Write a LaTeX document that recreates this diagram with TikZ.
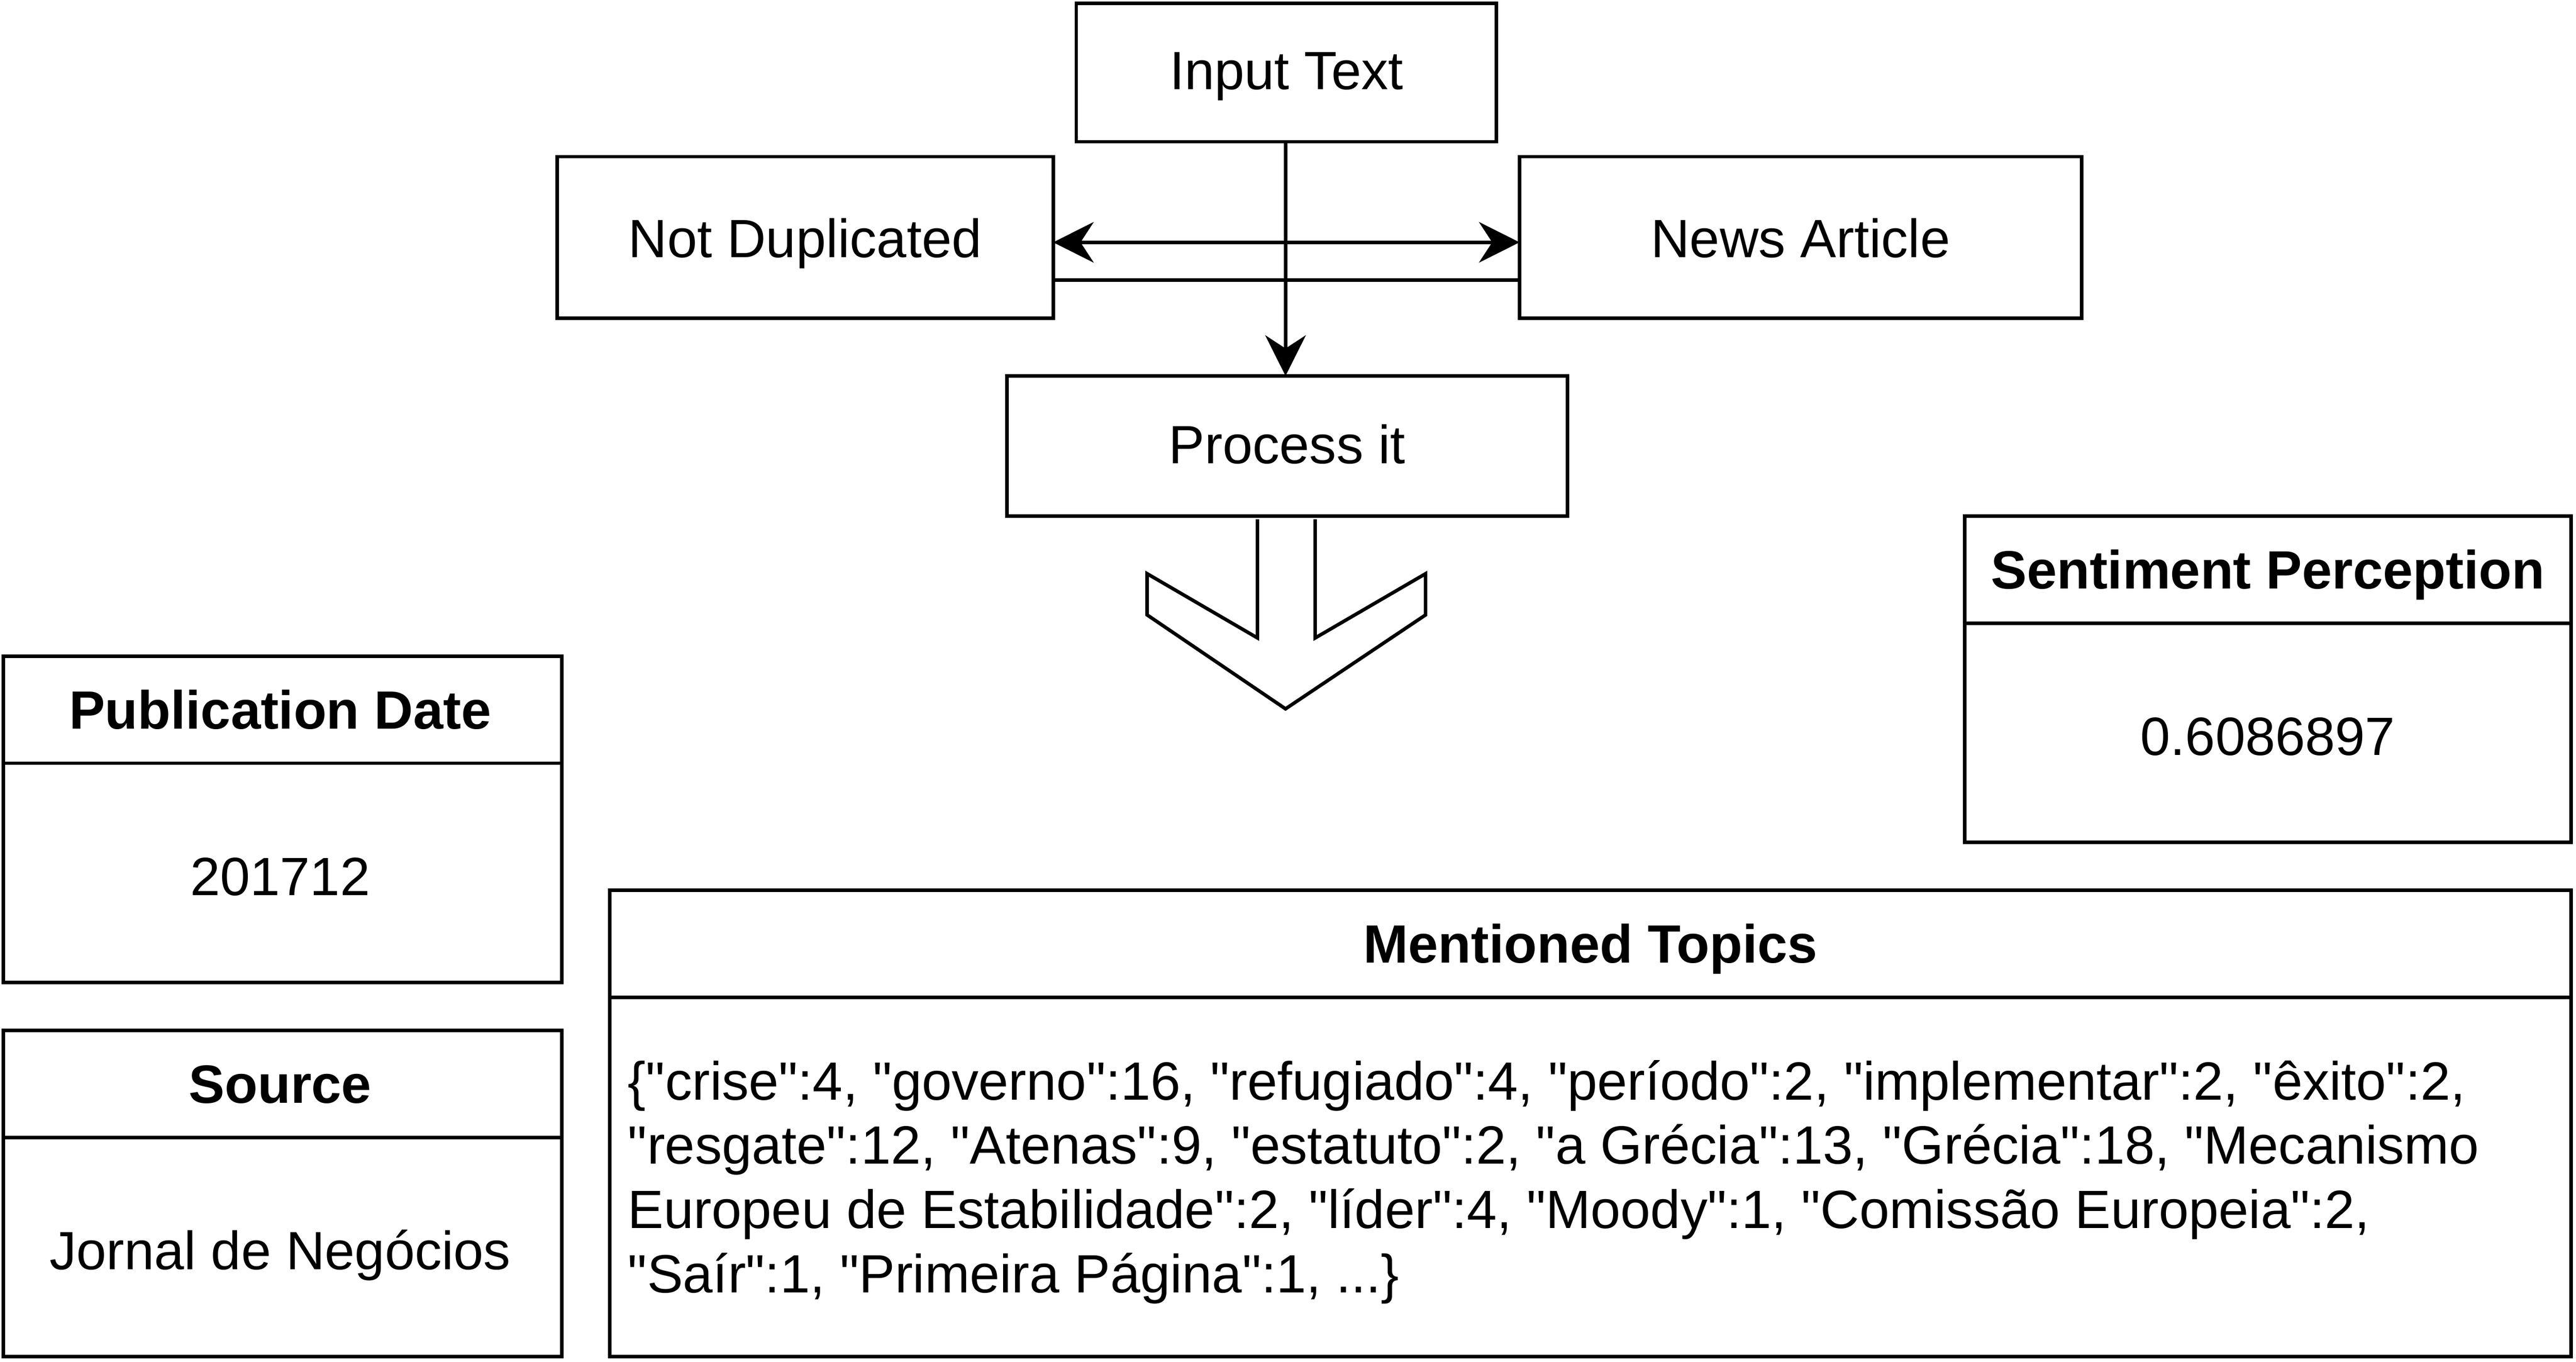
\documentclass[tikz,border=0pt]{standalone}
\usepackage{fontspec}
\setmainfont{Liberation Sans}
\usetikzlibrary{arrows.meta}
\newcommand{\qt}{\textquotedbl}
\begin{document}
\begin{tikzpicture}[x=1cm,y=-1cm, line width=0.6pt,
    head/.style={font=\fontsize{9.3}{12}\selectfont\bfseries, text height=1.5ex, text depth=0.4ex},
    txt/.style={font=\fontsize{9.3}{12}\selectfont, text height=1.5ex, text depth=0.4ex}]
        \useasboundingbox (0,0) rectangle (15.63,8.26);

        % flow boxes
        \draw (6.53,0.02) rectangle (9.08,0.86);
        \node [txt] (input) at (7.805,0.44) {Input Text};
        \draw (3.38,0.95) rectangle (6.39,1.93);
        \node [txt] (notdup) at (4.885,1.46) {Not Duplicated};
        \draw (9.22,0.95) rectangle (12.63,1.93);
        \node [txt] (news) at (10.925,1.46) {News Article};
        \draw (6.11,2.28) rectangle (9.51,3.13);
        \node [txt] (process) at (7.81,2.71) {Process it};

        % connectors
        \coordinate (split) at (7.8,1.70);
        \draw (7.8,0.86) -- (split);
        \draw [-{Stealth[length=7pt,width=7pt]}] (split) -- (7.8,2.28);
        \draw [{Stealth[length=7pt,width=7pt]}-{Stealth[length=7pt,width=7pt]}] (6.39,1.47) -- (9.22,1.47);
        \draw (6.39,1.70) -- (9.22,1.70);

        % big hollow arrow
        \draw [line join=miter] (7.63,3.15) -- (7.63,3.87) -- (6.96,3.48) -- (6.96,3.73) -- (7.8,4.30)
            -- (8.65,3.73) -- (8.65,3.48) -- (7.98,3.87) -- (7.98,3.15);

        % sentiment
        \draw (11.92,3.13) rectangle (15.60,5.11);
        \draw (11.92,3.78) -- (15.60,3.78);
        \node [head] (senth) at (13.76,3.47) {Sentiment Perception};
        \node [txt] (sentv) at (13.76,4.48) {0.6086897};

        % publication date
        \draw (0.02,3.98) rectangle (3.41,5.96);
        \draw (0.02,4.63) -- (3.41,4.63);
        \node [head] (dateh) at (1.7,4.32) {Publication Date};
        \node [txt] (datev) at (1.7,5.33) {201712};

        % source
        \draw (0.02,6.25) rectangle (3.41,8.23);
        \draw (0.02,6.90) -- (3.41,6.90);
        \node [head] (srch) at (1.7,6.59) {Source};
        \node [txt] (srcv) at (1.7,7.60) {Jornal de Negócios};

        % topics
        \draw (3.70,5.40) rectangle (15.60,8.23);
        \draw (3.70,6.05) -- (15.60,6.05);
        \node [head] (toph) at (9.65,5.74) {Mentioned Topics};
        \node [font=\fontsize{9.3}{11.1}\selectfont, anchor=north west, align=left, inner sep=0pt] (topv) at (3.80,6.42)
            {\{\qt crise\qt:4, \qt governo\qt:16, \qt refugiado\qt:4, \qt período\qt:2, \qt implementar\qt:2, \qt êxito\qt:2,\\
             \qt resgate\qt:12, \qt Atenas\qt:9, \qt estatuto\qt:2, \qt a Grécia\qt:13, \qt Grécia\qt:18, \qt Mecanismo\\
             Europeu de Estabilidade\qt:2, \qt líder\qt:4, \qt Moody\qt:1, \qt Comissão Europeia\qt:2,\\
             \qt Saír\qt:1, \qt Primeira Página\qt:1, ...\}};
    \end{tikzpicture}
\end{document}
